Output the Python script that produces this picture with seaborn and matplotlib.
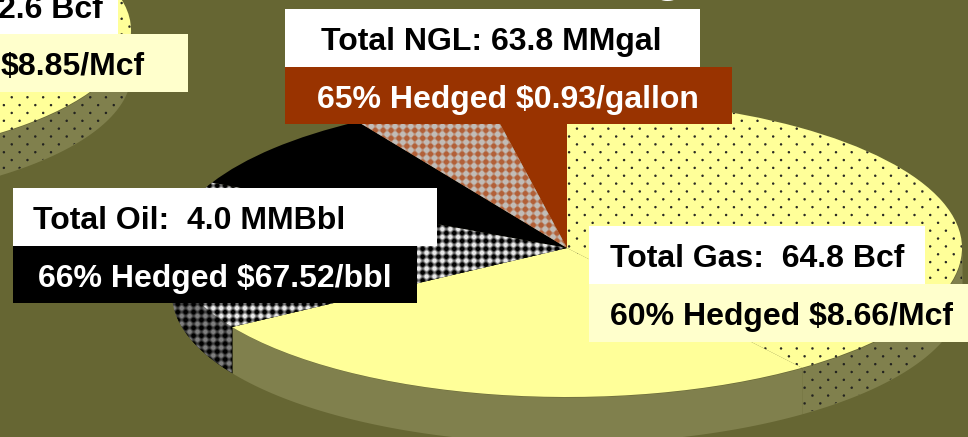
import numpy as np
import matplotlib
matplotlib.use("Agg")
import matplotlib.pyplot as plt
import matplotlib.patches as mpatches
from matplotlib.transforms import Affine2D
import seaborn as sns

# slice sizes in degrees
slice_names = ["gas_open", "gas_hedged", "ngl_open", "ngl_hedged", "oil_open", "oil_hedged"]
slice_values = [94.5, 143.5, 11.5, 20.5, 32.0, 58.0]
slice_colors = ["#FFFF99", "#FFFF99", "#993300", "#B5623A", "#000000", "#000000"]
side_colors = ["#80804D", "#80804D", "#4D1A00", "#5A3020", "#000000", "#000000"]
start_angle = -148.0

BG = "#666633"
LIGHT = "#FFFFCC"
FONT = ["Liberation Sans", "DejaVu Sans"]

# label rows: text, x, box (x0, y0, x1, y1), box colour, text colour
label_texts = ["Total NGL: 63.8 MMgal", "65% Hedged $0.93/gallon", "Total Oil:  4.0 MMBbl",
               "66% Hedged $67.52/bbl", "Total Gas:  64.8 Bcf", "60% Hedged $8.66/Mcf",
               "2.6 Bcf", "$8.85/Mcf"]
label_x = [321, 317, 33, 38, 610, 610, -2, 1]
label_boxes = [(285, 9, 700, 67), (285, 67, 732, 124), (13, 188, 437, 246),
               (13, 246, 417, 303), (589, 226, 925, 284), (589, 284, 968, 342),
               (0, -10, 118, 34), (0, 34, 188, 92)]
label_box_colors = ["white", "#993300", "white", "black", "white", LIGHT, "white", LIGHT]
label_text_colors = ["black", "white", "black", "white", "black", "black", "black", "black"]

sns.set_theme(style="white")
plt.rcParams["font.family"] = FONT

fig = plt.figure(figsize=(9.68, 4.37), dpi=100, facecolor=BG)
ax = fig.add_axes([0, 0, 1, 1])

W, H = 968, 437
X, Y = np.meshgrid(np.arange(W) + 0.5, np.arange(H) + 0.5)


def dots_layer():
    # staggered dots, 15.7 px apart, rows 7.85 px apart
    v = (Y - 136.5) / 7.85
    row = np.round(v)
    u = (X - 600.5) / 15.7 + 0.5 * (row % 2)
    d = np.hypot((u - np.round(u)) * 15.7, (v - row) * 7.85)
    img = np.zeros((H, W, 4))
    img[..., :3] = 0.12
    img[..., 3] = np.clip(1.7 - d, 0, 1) * 0.95
    return img


def lattice_layer(dark, light, low, high):
    p = 7.9
    s = np.cos(2 * np.pi * X / p) + np.cos(2 * np.pi * Y / p)
    t = np.clip((s - low) / (high - low), 0, 1)[..., None]
    return np.dstack([(1 - t) * np.array(dark) + t * np.array(light), np.ones((H, W))])


def draw_side(cx, cy, a, b, depth, t0, t1, color):
    t0, t1 = max(t0, -180), min(t1, 0)
    t = np.radians(np.linspace(t0, t1, 120))
    x = cx + a * np.cos(t)
    y = cy - b * np.sin(t)
    return ax.fill_between(x, y, y + depth, color=color, lw=0, zorder=2)


def overlay(img, clip_patch=None, clip_coll=None, z=3):
    im = ax.imshow(img, extent=(0, W, H, 0), aspect="auto", interpolation="nearest", zorder=z)
    if clip_patch is not None:
        im.set_clip_path(clip_patch)
    else:
        im.set_clip_path(clip_coll.get_paths()[0], ax.transData)
    return im


def draw_pie(values, colors, start, cx, cy, a, b):
    wedges, _ = ax.pie(values, colors=colors, startangle=start, wedgeprops={"lw": 0})
    tf = Affine2D().scale(a, -b).translate(cx, cy) + ax.transData
    for w in wedges:
        w.set_transform(tf)
        w.set_zorder(2.5)
        w.set_clip_on(False)
    return wedges


dots = dots_layer()
lat_brown = lattice_layer((0.70, 0.38, 0.22), (0.76, 0.74, 0.72), -0.9, 0.7)
lat_black = lattice_layer((0, 0, 0), (0.92, 0.92, 0.92), -1.2, 1.3)
lat_black_side = lattice_layer((0, 0, 0), (0.5, 0.5, 0.5), -1.2, 1.3)

# the pie cut off at top left, only its hedged part shows
prev_cx, prev_cy, prev_a, prev_b, prev_depth = -219, 30, 350, 132, 42
prev_side = draw_side(prev_cx, prev_cy, prev_a, prev_b, prev_depth, -180, 0, "#80804D")
overlay(dots, clip_coll=prev_side)
prev_w = draw_pie([1.0], ["#FFFF99"], 0, prev_cx, prev_cy, prev_a, prev_b)
overlay(dots, clip_patch=prev_w[0])

# main pie
cx, cy, a, b, depth = 567, 248, 395, 149, 46
edges = start_angle + np.concatenate([[0], np.cumsum(slice_values)])
wedges = draw_pie(slice_values, slice_colors, start_angle, cx, cy, a, b)

sides = {}
for i, name in enumerate(slice_names):
    for shift in (0, -360):
        t0, t1 = edges[i] + shift, edges[i + 1] + shift
        if t1 > -180 and t0 < 0:
            sides[name + str(shift)] = draw_side(cx, cy, a, b, depth, t0, t1, side_colors[i])

for name, coll in sides.items():
    if name.startswith("gas_hedged"):
        overlay(dots, clip_coll=coll)
    if name.startswith("oil_hedged"):
        overlay(lat_black_side, clip_coll=coll)

overlay(dots, clip_patch=wedges[1], z=3)
overlay(lat_brown, clip_patch=wedges[3], z=3)
overlay(lat_black, clip_patch=wedges[5], z=3)

# labels over the pie
for txt, x, box, box_c, txt_c in zip(label_texts, label_x, label_boxes, label_box_colors, label_text_colors):
    x0, y0, x1, y1 = box
    ax.add_patch(mpatches.Rectangle((x0, y0), x1 - x0, y1 - y0, fc=box_c, ec="none", zorder=5))
    ax.text(x, y0 + 41 if y0 >= 0 else 18, txt, color=txt_c, fontsize=23, fontweight="bold",
            ha="left", va="baseline", zorder=6)

# tail of the slide title that runs off the top edge
ax.text(653, -9, "g", color="white", fontsize=36, fontweight="bold", ha="left", va="baseline",
        zorder=6, clip_on=True)

ax.set_xlim(0, W)
ax.set_ylim(H, 0)
ax.set_aspect("auto")
ax.axis("off")
fig.savefig("out.png", dpi=100, facecolor=BG)
